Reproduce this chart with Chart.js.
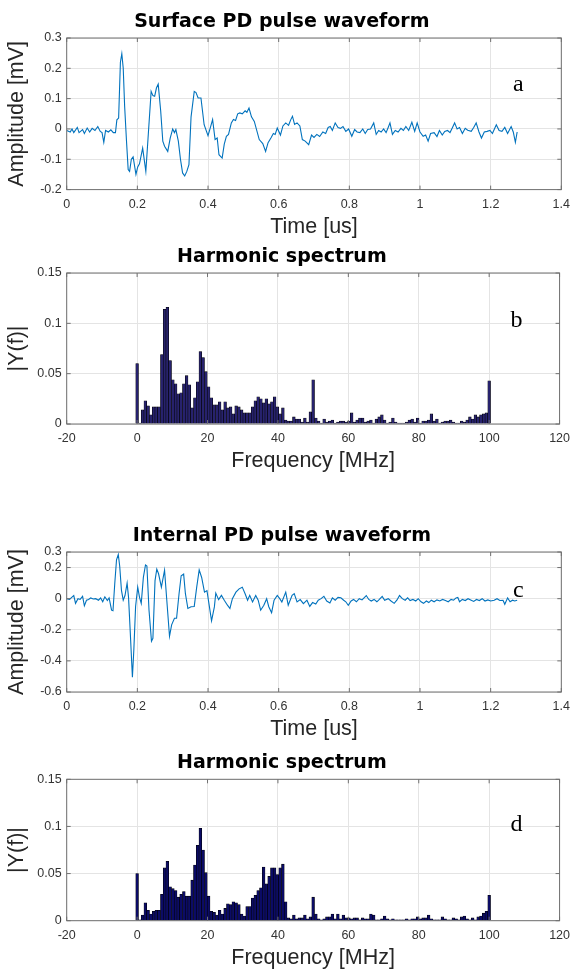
<!DOCTYPE html>
<html><head><meta charset="utf-8">
<script src="https://cdn.jsdelivr.net/npm/chart.js@4.4.1/dist/chart.umd.min.js"></script>
<style>
html,body{margin:0;padding:0;background:#fff;}
body{width:577px;height:973px;position:relative;overflow:hidden;}
.panel{position:absolute;left:0;width:577px;}
.panel canvas{display:block;}
</style></head><body>
<div class="panel" style="top:8px;height:232px"><canvas id="ca"></canvas></div>
<div class="panel" style="top:243px;height:231px"><canvas id="cb"></canvas></div>
<div class="panel" style="top:522px;height:220px"><canvas id="cc"></canvas></div>
<div class="panel" style="top:749px;height:222px"><canvas id="cd"></canvas></div>
<script>
// ---------- DATA ----------
// Panel a: Surface PD pulse waveform (time in us, amplitude in mV)
const timeA = [0.000,0.010,0.015,0.020,0.030,0.035,0.045,0.050,0.058,0.065,0.072,0.080,0.088,0.095,0.100,0.105,0.110,0.118,0.125,0.132,0.138,0.142,0.147,0.152,0.156,0.160,0.164,0.169,0.174,0.178,0.183,0.188,0.196,0.201,0.206,0.215,0.224,0.230,0.239,0.244,0.249,0.254,0.259,0.266,0.272,0.277,0.286,0.293,0.300,0.305,0.309,0.316,0.322,0.328,0.334,0.340,0.346,0.352,0.361,0.366,0.372,0.380,0.389,0.400,0.408,0.413,0.420,0.426,0.431,0.440,0.446,0.452,0.458,0.466,0.472,0.478,0.484,0.490,0.497,0.505,0.510,0.516,0.523,0.531,0.545,0.555,0.563,0.570,0.578,0.585,0.590,0.596,0.605,0.612,0.620,0.628,0.634,0.639,0.645,0.652,0.660,0.667,0.675,0.685,0.693,0.700,0.708,0.716,0.725,0.733,0.740,0.746,0.752,0.760,0.768,0.775,0.782,0.790,0.798,0.807,0.815,0.822,0.830,0.838,0.845,0.852,0.860,0.869,0.876,0.883,0.890,0.897,0.904,0.910,0.915,0.922,0.930,0.938,0.946,0.953,0.960,0.968,0.977,0.985,0.992,1.000,1.009,1.016,1.023,1.030,1.040,1.048,1.055,1.063,1.070,1.078,1.085,1.092,1.098,1.105,1.112,1.120,1.128,1.135,1.145,1.152,1.159,1.167,1.174,1.182,1.190,1.198,1.205,1.216,1.224,1.232,1.240,1.248,1.258,1.264,1.270,1.275];
const ampA = [-0.005,-0.010,0.000,-0.012,0.005,-0.012,-0.002,-0.015,0.003,-0.010,0.002,-0.005,0.008,-0.008,-0.012,-0.044,-0.005,-0.010,-0.003,-0.012,-0.012,0.030,0.036,0.220,0.248,0.200,0.075,-0.035,-0.134,-0.140,-0.100,-0.092,-0.150,-0.125,-0.115,-0.063,-0.140,-0.035,0.124,0.110,0.108,0.135,0.148,0.060,-0.040,-0.057,-0.074,-0.030,0.000,-0.012,-0.002,-0.040,-0.100,-0.145,-0.155,-0.140,-0.118,0.040,0.124,0.120,0.102,0.102,0.014,-0.022,0.010,0.031,-0.035,-0.030,-0.085,-0.096,-0.050,-0.024,-0.018,0.020,0.031,0.028,0.050,0.053,0.050,0.060,0.055,0.069,0.040,0.025,-0.035,-0.048,-0.074,-0.045,-0.030,-0.015,-0.018,0.003,-0.020,0.010,0.020,0.012,0.030,0.042,0.015,0.020,0.010,-0.035,-0.040,-0.052,-0.020,-0.028,-0.018,-0.025,-0.010,-0.015,0.005,0.008,-0.005,0.020,0.005,0.002,0.008,-0.008,0.000,-0.024,-0.002,-0.010,-0.012,0.000,-0.015,-0.002,0.000,0.020,-0.018,-0.005,-0.010,0.000,-0.012,0.005,0.020,-0.018,-0.005,-0.010,0.002,-0.005,0.008,-0.005,0.022,-0.008,0.020,-0.010,-0.024,-0.020,-0.040,-0.015,-0.012,-0.025,-0.005,-0.020,-0.008,-0.005,-0.012,0.005,0.020,0.000,0.005,-0.015,0.002,-0.004,-0.008,0.005,0.020,-0.010,-0.030,-0.010,-0.008,-0.005,-0.015,0.014,-0.005,-0.008,0.005,-0.015,0.008,-0.010,-0.044,-0.010];

// Panel c: Internal PD pulse waveform
const timeC = [0.000,0.008,0.015,0.020,0.025,0.032,0.038,0.045,0.050,0.056,0.062,0.068,0.075,0.082,0.090,0.096,0.102,0.108,0.115,0.120,0.127,0.131,0.136,0.141,0.146,0.150,0.155,0.160,0.165,0.171,0.175,0.180,0.186,0.190,0.195,0.201,0.206,0.211,0.217,0.223,0.227,0.233,0.240,0.244,0.250,0.255,0.260,0.268,0.277,0.283,0.291,0.297,0.305,0.311,0.318,0.324,0.331,0.336,0.343,0.352,0.361,0.368,0.375,0.382,0.390,0.397,0.404,0.410,0.418,0.422,0.430,0.438,0.446,0.455,0.462,0.469,0.479,0.488,0.497,0.505,0.512,0.518,0.526,0.535,0.542,0.549,0.558,0.566,0.572,0.580,0.587,0.596,0.603,0.609,0.620,0.627,0.638,0.644,0.652,0.661,0.670,0.680,0.688,0.696,0.705,0.712,0.720,0.728,0.736,0.745,0.752,0.760,0.768,0.776,0.784,0.790,0.797,0.805,0.812,0.820,0.828,0.836,0.848,0.855,0.862,0.870,0.878,0.885,0.893,0.900,0.910,0.918,0.927,0.935,0.942,0.950,0.958,0.965,0.972,0.980,0.988,0.995,1.003,1.010,1.018,1.025,1.032,1.040,1.048,1.056,1.064,1.072,1.080,1.088,1.095,1.102,1.107,1.112,1.120,1.128,1.136,1.145,1.152,1.160,1.168,1.176,1.184,1.192,1.200,1.210,1.218,1.226,1.235,1.240,1.248,1.255,1.262,1.268,1.275];
const ampC = [0.000,-0.005,0.010,0.020,-0.030,0.000,-0.005,0.015,-0.046,-0.010,-0.005,0.005,-0.002,0.000,-0.010,0.005,-0.020,0.012,-0.012,0.005,-0.074,-0.078,0.095,0.250,0.284,0.210,0.053,-0.010,0.020,0.100,0.010,-0.220,-0.505,-0.330,-0.050,0.074,0.010,-0.030,0.137,0.217,0.210,-0.074,-0.274,-0.255,0.116,0.190,0.160,0.074,0.183,0.000,-0.242,-0.168,-0.126,-0.126,0.032,0.147,0.158,0.032,-0.063,-0.052,-0.050,0.074,0.185,0.136,0.042,0.052,-0.053,-0.143,-0.053,0.036,-0.006,0.021,-0.010,-0.042,-0.063,0.000,0.042,0.063,0.074,0.032,-0.010,0.021,-0.021,0.021,-0.010,-0.074,-0.042,0.000,-0.052,-0.090,-0.010,0.021,0.000,-0.021,0.042,-0.042,0.021,0.032,-0.021,-0.006,-0.032,-0.010,-0.050,-0.025,-0.035,-0.010,0.000,0.015,-0.015,-0.028,0.005,-0.010,0.008,0.006,-0.010,-0.020,-0.042,-0.015,-0.005,-0.020,0.000,-0.008,0.020,-0.005,-0.015,-0.005,-0.020,-0.005,0.015,-0.010,0.000,-0.015,-0.030,-0.008,0.020,0.000,-0.010,0.005,-0.012,-0.005,-0.015,0.000,-0.020,-0.030,-0.015,-0.025,-0.010,-0.020,-0.008,-0.015,-0.005,-0.012,-0.020,-0.005,-0.010,0.005,0.008,-0.020,-0.005,-0.012,0.000,-0.010,-0.018,-0.005,-0.012,0.000,-0.015,-0.008,-0.015,-0.010,0.000,-0.012,-0.010,-0.036,0.005,-0.020,-0.010,-0.015,-0.010];

// Frequency bins (MHz) shared by both spectra
const freqMHz = [0,0.78,1.56,2.34,3.13,3.91,4.69,5.47,6.25,7.03,7.81,8.59,9.38,10.16,10.94,11.72,12.5,13.28,14.06,14.84,15.63,16.41,17.19,17.97,18.75,19.53,20.31,21.09,21.88,22.66,23.44,24.22,25,25.78,26.56,27.34,28.13,28.91,29.69,30.47,31.25,32.03,32.81,33.59,34.38,35.16,35.94,36.72,37.5,38.28,39.06,39.84,40.63,41.41,42.19,42.97,43.75,44.53,45.31,46.09,46.88,47.66,48.44,49.22,50,50.78,51.56,52.34,53.13,53.91,54.69,55.47,56.25,57.03,57.81,58.59,59.38,60.16,60.94,61.72,62.5,63.28,64.06,64.84,65.63,66.41,67.19,67.97,68.75,69.53,70.31,71.09,71.88,72.66,73.44,74.22,75,75.78,76.56,77.34,78.13,78.91,79.69,80.47,81.25,82.03,82.81,83.59,84.38,85.16,85.94,86.72,87.5,88.28,89.06,89.84,90.63,91.41,92.19,92.97,93.75,94.53,95.31,96.09,96.88,97.66,98.44,99.22,100];

// Panel b: |Y(f)| of surface PD
const specB = [0.060,0.001,0.014,0.023,0.018,0.009,0.017,0.017,0.017,0.069,0.114,0.116,0.063,0.044,0.040,0.030,0.031,0.040,0.048,0.039,0.016,0.026,0.042,0.072,0.066,0.052,0.037,0.026,0.019,0.019,0.022,0.014,0.022,0.016,0.017,0.010,0.018,0.017,0.014,0.011,0.011,0.011,0.017,0.023,0.027,0.025,0.021,0.025,0.020,0.022,0.027,0.017,0.010,0.016,0.004,0.003,0.003,0.007,0.005,0.005,0.002,0.006,0.002,0.012,0.044,0.006,0.003,0.001,0.005,0.002,0.003,0.004,0.001,0.002,0.003,0.003,0.002,0.003,0.011,0.002,0.004,0.006,0.006,0.002,0.003,0.004,0.001,0.005,0.007,0.009,0.004,0.001,0.002,0.006,0.002,0.001,0.001,0.001,0.002,0.004,0.005,0.002,0.006,0.001,0.003,0.003,0.004,0.010,0.003,0.005,0.001,0.002,0.003,0.003,0.004,0.002,0.001,0.001,0.003,0.002,0.004,0.007,0.005,0.009,0.007,0.009,0.010,0.011,0.043];

// Panel d: |Y(f)| of internal PD
const specD = [0.050,0.001,0.006,0.019,0.011,0.007,0.010,0.011,0.011,0.028,0.056,0.063,0.036,0.034,0.032,0.025,0.028,0.031,0.026,0.026,0.043,0.059,0.080,0.098,0.075,0.051,0.026,0.010,0.009,0.006,0.011,0.007,0.013,0.018,0.017,0.020,0.019,0.017,0.007,0.005,0.015,0.015,0.024,0.027,0.032,0.035,0.057,0.039,0.047,0.056,0.056,0.049,0.056,0.060,0.020,0.003,0.002,0.006,0.002,0.003,0.003,0.006,0.002,0.004,0.025,0.007,0.002,0.001,0.002,0.004,0.004,0.007,0.002,0.007,0.002,0.006,0.003,0.003,0.002,0.003,0.003,0.001,0.003,0.002,0.002,0.007,0.006,0.001,0.001,0.002,0.005,0.002,0.001,0.002,0.001,0.001,0.001,0.001,0.002,0.001,0.002,0.002,0.004,0.002,0.003,0.003,0.006,0.002,0.001,0.001,0.001,0.004,0.002,0.001,0.001,0.003,0.002,0.001,0.004,0.005,0.002,0.001,0.003,0.001,0.004,0.005,0.008,0.010,0.027];

// Axis tick values
const timeTicks = [0,0.2,0.4,0.6,0.8,1,1.2,1.4];
const freqTicks = [-20,0,20,40,60,80,100,120];
const ampTicksA = [-0.2,-0.1,0,0.1,0.2,0.3];
const ampTicksC = [-0.6,-0.4,-0.2,0,0.2,0.3];
const specTicks = [0,0.05,0.1,0.15];

// ---------- STYLE / LAYOUT ----------
Chart.defaults.font.family = '"Liberation Sans", Arial, sans-serif';
Chart.defaults.color = '#333333';
const GRID = '#e4e4e4';
const FRAME = '#707070';
const LINE_BLUE = '#0072BD';

const framePlugin = {
  id: 'frameBox',
  afterDraw(chart, args, opts) {
    const {ctx, chartArea: a, scales} = chart;
    const x = scales.x, y = scales.y;
    ctx.save();
    ctx.strokeStyle = FRAME;
    ctx.lineWidth = 1;
    ctx.strokeRect(a.left, a.top, a.width, a.height);
    const L = 4;
    ctx.beginPath();
    x.ticks.forEach(t => {
      const p = x.getPixelForValue(t.value);
      ctx.moveTo(p, a.bottom); ctx.lineTo(p, a.bottom - L);
      ctx.moveTo(p, a.top); ctx.lineTo(p, a.top + L);
    });
    y.ticks.forEach(t => {
      const p = y.getPixelForValue(t.value);
      ctx.moveTo(a.left, p); ctx.lineTo(a.left + L, p);
      ctx.moveTo(a.right, p); ctx.lineTo(a.right - L, p);
    });
    ctx.stroke();
    if (opts.letter) {
      ctx.fillStyle = '#000';
      ctx.font = '24px "Liberation Serif", "Times New Roman", serif';
      ctx.textAlign = 'center';
      ctx.textBaseline = 'alphabetic';
      ctx.fillText(opts.letter, a.right - opts.dx, a.top + opts.dy);
    }
    ctx.restore();
  }
};

function fmt(v) { return String(Math.round(v * 1000) / 1000); }

function axisX(title, tickVals, min, max) {
  return {
    type: 'linear', min, max, offset: false,
    afterBuildTicks: s => { s.ticks = tickVals.map(v => ({value: v})); },
    afterFit: s => { s.height = 50; },
    grid: {color: GRID, lineWidth: 1, drawTicks: false, offset: false},
    border: {display: false},
    ticks: {padding: 7, font: {size: 12.5}, color: '#333', maxRotation: 0, autoSkip: false, callback: fmt},
    title: {display: true, text: title, font: {size: 21.5}, color: '#262626', padding: {top: 0, bottom: 0}}
  };
}
function axisY(title, tickVals, min, max) {
  return {
    type: 'linear', min, max,
    afterBuildTicks: s => { s.ticks = tickVals.map(v => ({value: v})); },
    afterFit: s => { s.width = 66.7; },
    grid: {color: GRID, lineWidth: 1, drawTicks: false},
    border: {display: false},
    ticks: {padding: 5, font: {size: 12.5}, color: '#333', autoSkip: false, callback: fmt},
    title: {display: true, text: title, font: {size: 21.5}, color: '#262626', padding: {top: 4.5, bottom: 0}}
  };
}
function baseOptions(title, padTop, padBottom, letter, dy, xs, ys) {
  return {
    responsive: true, maintainAspectRatio: false, animation: false, devicePixelRatio: 1,
    layout: {padding: {top: padTop, bottom: padBottom, left: 0, right: 13.3}},
    plugins: {
      legend: {display: false}, tooltip: {enabled: false},
      title: {display: true, text: title, color: '#000',
        font: {family: '"DejaVu Sans", sans-serif', size: 19, weight: 'bold'},
        padding: {top: 0, bottom: 5}},
      frameBox: {letter, dx: 43, dy}
    },
    scales: {x: xs, y: ys}
  };
}

function lineChart(id, title, times, amps, padTop, padBottom, letter, dy, yTicks, ymin, ymax) {
  new Chart(document.getElementById(id), {
    type: 'line',
    data: {datasets: [{data: times.map((t, i) => ({x: t, y: amps[i]})),
      borderColor: LINE_BLUE, borderWidth: 1.1, pointRadius: 0, tension: 0, fill: false}]},
    options: baseOptions(title, padTop, padBottom, letter, dy,
      axisX('Time [us]', timeTicks, 0, 1.4),
      axisY('Amplitude [mV]', yTicks, ymin, ymax)),
    plugins: [framePlugin]
  });
}
function barChart(id, title, vals, fillColor, padTop, padBottom, letter, dy) {
  new Chart(document.getElementById(id), {
    type: 'bar',
    data: {datasets: [{data: freqMHz.map((f, i) => ({x: f, y: vals[i]})),
      backgroundColor: fillColor, borderColor: '#000000', borderWidth: 0.6,
      barPercentage: 1, categoryPercentage: 1, borderSkipped: 'bottom'}]},
    options: baseOptions(title, padTop, padBottom, letter, dy,
      axisX('Frequency [MHz]', freqTicks, -20, 120),
      axisY('|Y(f)|', specTicks, 0, 0.15)),
    plugins: [framePlugin]
  });
}

lineChart('ca', 'Surface PD pulse waveform', timeA, ampA, 2.2, 0.4, 'a', 53, ampTicksA, -0.2, 0.3);
barChart('cb', 'Harmonic spectrum', specB, '#27226e', 2.2, 0, 'b', 54);
lineChart('cc', 'Internal PD pulse waveform', timeC, ampC, 2.2, 0, 'c', 45, ampTicksC, -0.6, 0.3);
barChart('cd', 'Harmonic spectrum', specD, '#0b0b66', 2.5, 0.3, 'd', 52);
</script>
</body></html>
